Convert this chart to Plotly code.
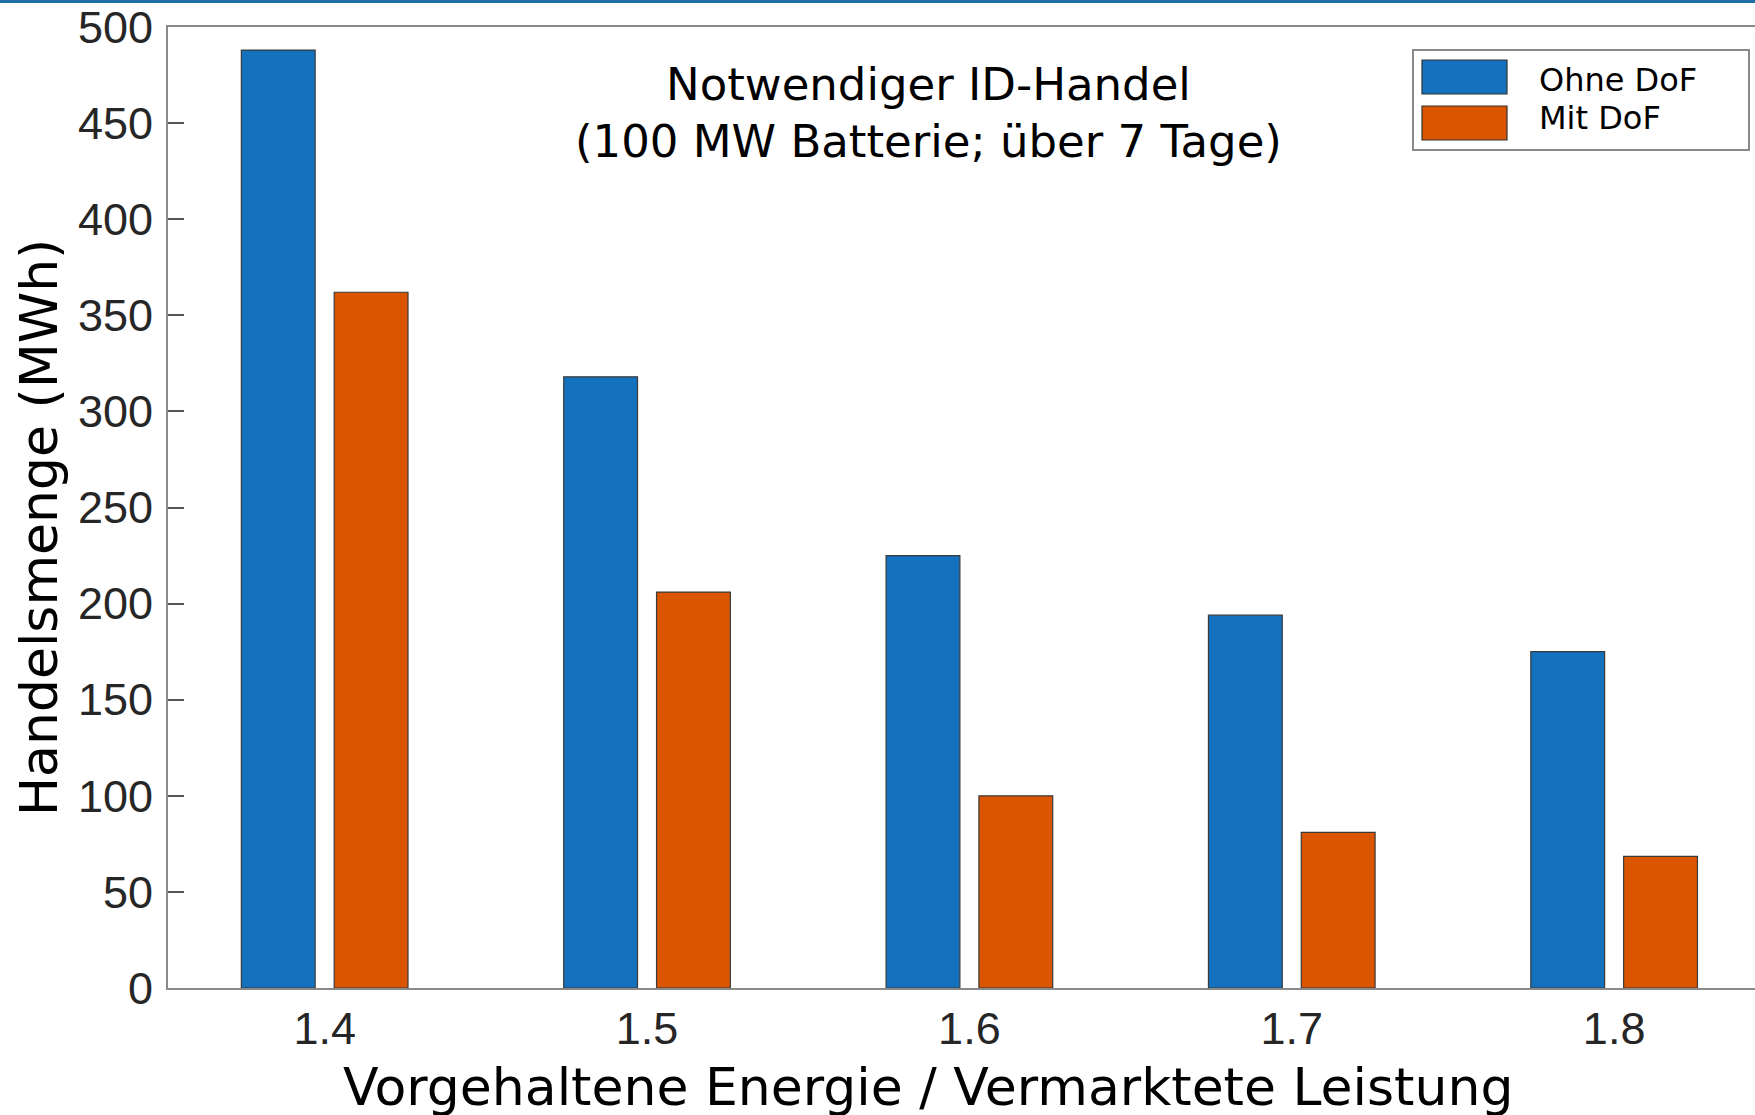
import plotly.graph_objects as go

# ---- data ----
ratios = [1.4, 1.5, 1.6, 1.7, 1.8]
tick_labels = ["1.4", "1.5", "1.6", "1.7", "1.8"]
ohne_dof = [488, 318, 225, 194, 175]
mit_dof = [362, 206, 100, 81, 68.5]
series_names = ["Ohne DoF", "Mit DoF"]
series_colors = ["#1371BE", "#DA5500"]
title_lines = ["Notwendiger ID-Handel", "(100 MW Batterie; über 7 Tage)"]
x_title = "Vorgehaltene Energie / Vermarktete Leistung"
y_title = "Handelsmenge (MWh)"

W, H = 1755, 1115
L, R, T, B = 168, 0, 27, 127
PW, PH = W - L - R, H - T - B

def px(x):
    return (x - L) / PW

def py(y):
    return (H - B - y) / PH

TITLE_FONT = "'DejaVu Sans', sans-serif"
TICK_FONT = "'Liberation Sans', Arial, sans-serif"

fig = go.Figure()
for name, vals, col in zip(series_names, [ohne_dof, mit_dof], series_colors):
    fig.add_trace(go.Bar(
        x=ratios, y=vals, name=name,
        marker=dict(color=col, line=dict(color="#3a3a3a", width=1.2)),
        showlegend=False,
    ))

fig.update_layout(
    width=W, height=H,
    margin=dict(l=L, r=R, t=T, b=B, autoexpand=False),
    paper_bgcolor="white", plot_bgcolor="white",
    barmode="group", bargap=0.424, bargroupgap=0.205,
    xaxis=dict(
        range=[1.3514, 1.8437], automargin=False,
        tickvals=ratios, ticktext=tick_labels,
        showgrid=False, zeroline=False,
        showline=True, mirror=True, linecolor="#8a8a8a", linewidth=2,
        ticks="", ticklabelstandoff=0,
        tickfont=dict(family=TICK_FONT, size=45, color="#262626"),
    ),
    yaxis=dict(
        range=[0, 500], automargin=False,
        tickvals=[0, 50, 100, 150, 200, 250, 300, 350, 400, 450, 500],
        showgrid=False, zeroline=False,
        showline=True, linecolor="#8a8a8a", linewidth=2,
        ticks="inside", ticklen=16, tickcolor="#555555", tickwidth=1.5,
        ticklabelstandoff=4,
        tickfont=dict(family=TICK_FONT, size=45, color="#262626"),
    ),
)

# axis titles
fig.add_annotation(x=px(928), y=py(1087), xref="paper", yref="paper",
                   text=x_title, showarrow=False, xanchor="center", yanchor="middle",
                   font=dict(family=TITLE_FONT, size=52, color="#000000"))
fig.add_annotation(x=px(39), y=py(528), xref="paper", yref="paper",
                   text=y_title, showarrow=False, textangle=-90,
                   xanchor="center", yanchor="middle",
                   font=dict(family=TITLE_FONT, size=52, color="#000000"))

# title (two lines)
for line, ypix in zip(title_lines, [85, 141]):
    fig.add_annotation(x=px(928), y=py(ypix), xref="paper", yref="paper",
                       text=line, showarrow=False, xanchor="center", yanchor="middle",
                       font=dict(family=TITLE_FONT, size=45, color="#000000"))

# custom legend
fig.add_shape(type="rect", xref="paper", yref="paper",
              x0=px(1413), x1=px(1749), y0=py(150), y1=py(50),
              line=dict(color="#8a8a8a", width=2), fillcolor="white", layer="above")
for name, col, (y0, y1, yc) in zip(series_names, series_colors,
                                   [(60, 94, 80), (106, 140, 118)]):
    fig.add_shape(type="rect", xref="paper", yref="paper",
                  x0=px(1422), x1=px(1507), y0=py(y1), y1=py(y0),
                  line=dict(color="#333333", width=1.2), fillcolor=col, layer="above")
    fig.add_annotation(x=px(1537), y=py(yc), xref="paper", yref="paper",
                       text=name, showarrow=False, xanchor="left", yanchor="middle",
                       font=dict(family=TITLE_FONT, size=32, color="#000000"))

# thin blue header line at the top of the page
fig.add_shape(type="line", xref="paper", yref="paper",
              x0=px(0), x1=px(W), y0=py(1.5), y1=py(1.5),
              line=dict(color="#1F6EA6", width=3))

fig.write_html("out.html", config={"displayModeBar": False},
               post_script="document.body.style.margin='0';")
